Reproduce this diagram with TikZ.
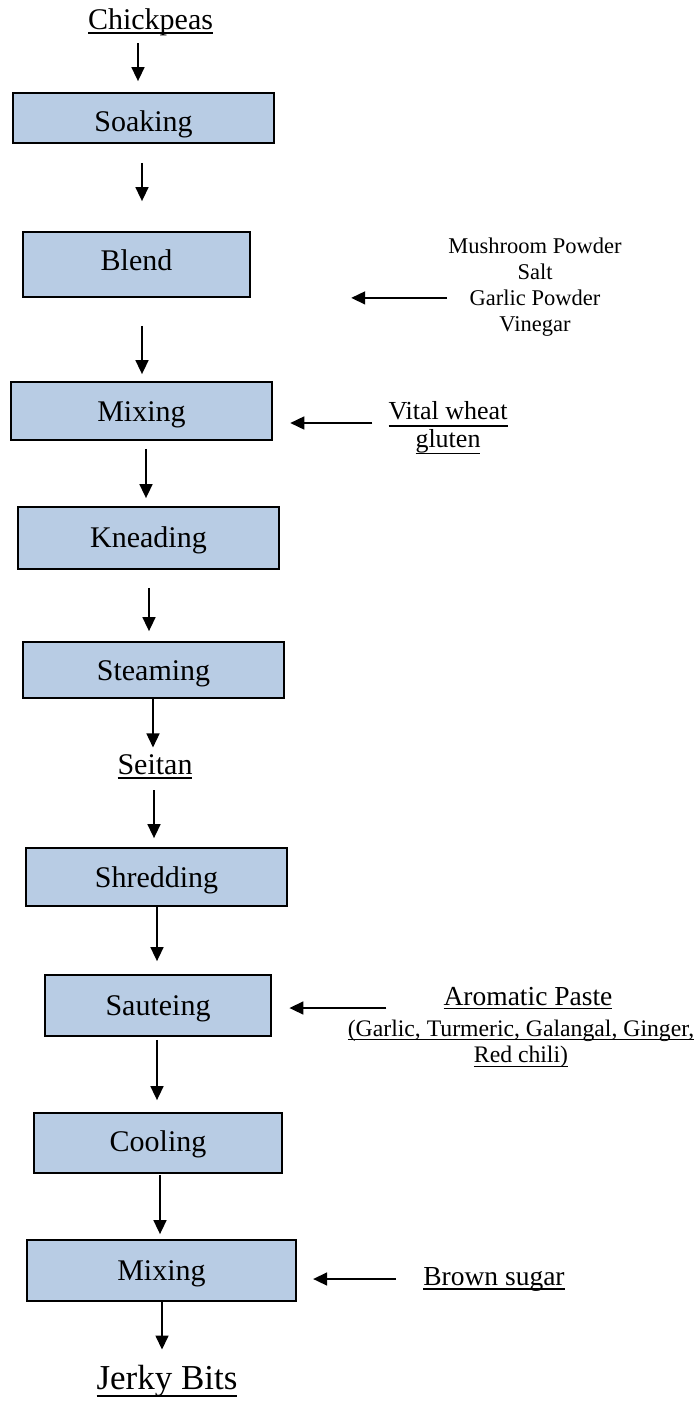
\documentclass[tikz,border=0pt]{standalone}
\usepackage{fontspec}
\setmainfont{Liberation Serif}
\usetikzlibrary{arrows.meta}
\definecolor{boxblue}{RGB}{184,204,228}
\newsavebox{\ulbox}
\newcommand{\ulx}[2][0.14]{\sbox{\ulbox}{#2}\rlap{\rule[\dimexpr -#1em - 0.03em\relax]{\wd\ulbox}{0.06em}}\usebox{\ulbox}}
\newcommand{\fs}[2]{\fontsize{#1}{#2}\selectfont}
\begin{document}
\begin{tikzpicture}[x=1pt,y=-1pt,
  stepbox/.style={draw=black,line width=1.8pt,fill=boxblue,inner sep=0pt,
    font=\fs{30}{36},text height=20pt,text depth=0pt},
  arr/.style={line width=1.6pt,-{Triangle[length=14pt,width=13pt]}},
  lbl/.style={inner sep=0pt,anchor=base}]
\fill[white] (0,0) rectangle (697,1401);
\useasboundingbox (0,0) rectangle (697,1401);

% process boxes
\node[stepbox,minimum width=261pt,minimum height=50pt,text height=26pt] (soak) at (143.5,118) {Soaking};
\node[stepbox,minimum width=227pt,minimum height=65pt,text depth=9pt] (blend) at (136.5,264.5) {Blend};
\node[stepbox,minimum width=261pt,minimum height=58pt] (mixa) at (141.5,411) {Mixing};
\node[stepbox,minimum width=261pt,minimum height=62pt,text depth=2pt] (knead) at (148.5,538) {Kneading};
\node[stepbox,minimum width=261pt,minimum height=56pt] (steam) at (153.5,670) {Steaming};
\node[stepbox,minimum width=261pt,minimum height=58pt] (shred) at (156.5,877) {Shredding};
\node[stepbox,minimum width=226pt,minimum height=61pt,text depth=1pt] (saut) at (158,1005.5) {Sauteing};
\node[stepbox,minimum width=248pt,minimum height=60pt,text depth=4pt] (cool) at (158,1143) {Cooling};
\node[stepbox,minimum width=269pt,minimum height=61pt,text depth=1pt] (mixb) at (161.5,1270.5) {Mixing};

% labels
\node[lbl,font=\fs{30}{36}] (chick) at (150.5,29) {\ulx[0.13]{Chickpeas}};
\node[lbl,font=\fs{30}{36}] (seitan) at (155,774) {\ulx[0.13]{Seitan}};
\node[lbl,font=\fs{35}{42}] (jerky) at (167,1389) {\ulx[0.2]{Jerky Bits}};
\node[lbl,font=\fs{27.5}{33}] (brown) at (494,1285) {\ulx[0.15]{Brown sugar}};
\node[lbl,font=\fs{27.5}{33}] (aroma) at (528,1005) {\ulx[0.13]{Aromatic Paste}};
\node[inner sep=0pt,anchor=north,align=center,font=\fs{23.7}{26}] (aromadet) at (521,1019.6)
  {\ulx{(Garlic, Turmeric, Galangal, Ginger,}\\\ulx[0.18]{Red chili)}};
\node[inner sep=0pt,anchor=north,align=center,font=\fs{22.5}{26}] (ingr) at (535,237.6)
  {Mushroom Powder\\Salt\\Garlic Powder\\Vinegar};
\node[inner sep=0pt,anchor=north,align=center,font=\fs{26}{28}] (vital) at (448,401.5)
  {\ulx[0.25]{Vital wheat}\\\ulx[0.22]{gluten}};

% vertical flow
\draw[arr,shorten <=7.5pt,shorten >=11pt] ([xshift=-12.5pt]chick.south) -- ([xshift=-5.5pt]soak.north);
\draw[arr,shorten <=19pt,shorten >=30pt] ([xshift=-1.5pt]soak.south) -- ([xshift=5.5pt]blend.north);
\draw[arr,shorten <=28pt,shorten >=7pt] ([xshift=5.5pt]blend.south) -- ([xshift=0.5pt]mixa.north);
\draw[arr,shorten <=8pt,shorten >=8pt] ([xshift=4.5pt]mixa.south) -- ([xshift=-2.5pt]knead.north);
\draw[arr,shorten <=18pt,shorten >=10pt] ([xshift=0.5pt]knead.south) -- ([xshift=-4.5pt]steam.north);
\draw[arr,shorten >=6.5pt] ([xshift=-0.5pt]steam.south) -- ([xshift=-2pt]seitan.north);
\draw[arr,shorten <=11pt,shorten >=9pt] ([xshift=-1pt]seitan.south) -- ([xshift=-2.5pt]shred.north);
\draw[arr,shorten >=13pt] ([xshift=0.5pt]shred.south) -- ([xshift=-1pt]saut.north);
\draw[arr,shorten <=3pt,shorten >=12pt] ([xshift=-1pt]saut.south) -- ([xshift=-1pt]cool.north);
\draw[arr,shorten <=1pt,shorten >=5pt] ([xshift=2pt]cool.south) -- ([xshift=-1.5pt]mixb.north);
\draw[arr,shorten >=15pt] ([xshift=0.5pt]mixb.south) -- ([xshift=-5pt]jerky.north);

% side inputs
\draw[arr] (ingr.west |- blend.south) ++(-1pt,0) -- ++(-96pt,0);
\draw[arr] (vital.west |- mixa.east) ++(-16pt,-12pt) -- ++(-82pt,0);
\draw[arr] (aroma.west |- saut.east) ++(-57pt,-2.5pt) -- ++(-97pt,0);
\draw[arr] (brown.west |- mixb.east) ++(-27pt,-8.5pt) -- ++(-83pt,0);
\end{tikzpicture}
\end{document}
